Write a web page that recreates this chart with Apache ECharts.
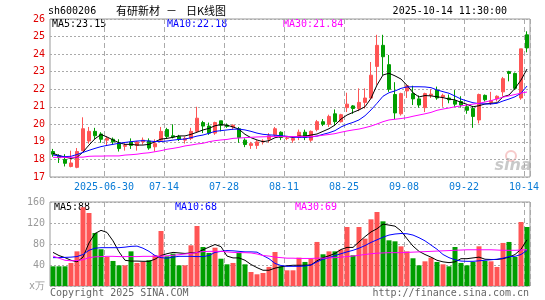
<!DOCTYPE html>
<html>
<head>
<meta charset="utf-8">
<title>sh600206 日K线图</title>
<script src="https://cdn.jsdelivr.net/npm/echarts@6.0.0/dist/echarts.min.js"></script>
<style>
html, body { margin: 0; padding: 0; background: #fff; }
#main { width: 545px; height: 300px; }
</style>
</head>
<body>
<div id="main"></div>
<script>
// 交易日
var dates = [
  '2025-06-17','2025-06-18','2025-06-19','2025-06-20','2025-06-23','2025-06-24','2025-06-25','2025-06-26','2025-06-27','2025-06-30',
  '2025-07-01','2025-07-02','2025-07-03','2025-07-04','2025-07-07','2025-07-08','2025-07-09','2025-07-10','2025-07-11','2025-07-14',
  '2025-07-15','2025-07-16','2025-07-17','2025-07-18','2025-07-21','2025-07-22','2025-07-23','2025-07-24','2025-07-25','2025-07-28',
  '2025-07-29','2025-07-30','2025-07-31','2025-08-01','2025-08-04','2025-08-05','2025-08-06','2025-08-07','2025-08-08','2025-08-11',
  '2025-08-12','2025-08-13','2025-08-14','2025-08-15','2025-08-18','2025-08-19','2025-08-20','2025-08-21','2025-08-22','2025-08-25',
  '2025-08-26','2025-08-27','2025-08-28','2025-08-29','2025-09-01','2025-09-02','2025-09-03','2025-09-04','2025-09-05','2025-09-08',
  '2025-09-09','2025-09-10','2025-09-11','2025-09-12','2025-09-15','2025-09-16','2025-09-17','2025-09-18','2025-09-19','2025-09-22',
  '2025-09-23','2025-09-24','2025-09-25','2025-09-26','2025-09-29','2025-09-30','2025-10-09','2025-10-10','2025-10-13','2025-10-14'
];
var openP = [
  18.45,18.2,18.0,17.6,17.55,18.5,19.05,19.6,19.45,19.1,
  19.15,18.95,18.75,19.0,18.8,19.0,19.05,18.72,19.1,19.7,
  19.35,19.3,19.1,19.2,19.6,20.1,19.9,19.5,20.2,19.95,
  19.85,19.75,19.1,18.8,18.8,19.0,19.15,19.4,19.55,19.2,
  19.1,19.25,19.55,19.1,19.7,20.15,20.0,20.6,20.15,20.95,
  21.05,20.9,21.25,21.5,23.3,24.5,23.4,21.7,20.6,21.9,
  21.75,21.45,20.95,21.65,21.95,21.55,21.5,21.35,21.3,21.0,
  20.9,20.25,21.65,21.25,21.45,21.85,23.0,22.9,21.5,25.1
];
var closeP = [
  18.3,18.1,17.78,17.8,18.45,19.75,19.6,19.35,19.15,19.2,
  19.0,18.62,18.8,18.8,19.0,19.1,18.65,18.9,19.6,19.3,
  19.28,19.15,19.2,19.6,20.35,19.9,19.5,20.1,19.95,19.88,
  19.95,19.25,18.85,18.9,19.0,19.05,19.35,19.75,19.25,19.22,
  19.2,19.55,19.25,19.6,20.15,20.0,20.45,20.15,20.55,21.15,
  20.9,21.25,21.5,22.8,24.5,23.85,22.0,20.65,21.75,22.2,
  21.45,21.1,21.75,21.72,21.5,21.65,21.4,21.15,21.1,20.8,
  20.45,21.7,21.4,21.35,21.6,22.6,22.9,22.05,24.3,24.35
];
var lowP = [
  18.15,17.8,17.6,17.55,17.5,18.45,18.9,19.15,18.95,18.8,
  18.85,18.45,18.5,18.6,18.5,18.85,18.55,18.45,19.0,19.2,
  19.2,19.05,18.9,19.1,19.55,19.5,19.4,19.4,19.6,19.8,
  19.7,18.95,18.7,18.6,18.6,18.85,18.95,19.3,19.1,19.1,
  18.95,19.1,19.1,19.0,19.6,19.9,19.85,19.95,20.1,20.7,
  20.6,20.75,20.9,21.45,22.25,22.8,21.85,20.3,20.5,21.5,
  21.1,20.95,20.7,21.5,21.4,21.0,21.2,21.0,20.95,20.6,
  19.8,20.05,21.3,21.1,21.3,21.6,22.45,21.95,21.4,24.1
];
var highP = [
  18.6,18.3,18.3,18.5,18.65,20.4,19.85,19.8,19.55,19.3,
  19.25,19.15,18.92,19.2,19.05,19.25,19.2,19.15,19.85,19.8,
  20.0,19.4,19.3,19.8,21.0,20.2,20.1,20.15,20.2,20.05,
  20.0,19.85,19.2,19.0,19.1,19.15,19.5,19.85,19.6,19.3,
  19.3,19.7,19.7,19.65,20.25,20.3,20.55,20.85,20.6,21.8,
  21.1,22.05,22.05,23.55,25.1,25.1,23.95,22.4,21.8,22.25,
  22.2,21.65,21.8,22.0,22.15,21.75,21.7,21.95,21.6,21.15,
  21.05,21.75,21.7,21.85,21.65,22.7,23.05,22.95,24.3,25.3
];
// 均线
var ma5 = [
  18.35,18.22,18.13,18.06,18.12,18.42,18.82,19.18,19.42,19.28,
  19.11,18.95,18.86,18.86,18.82,18.82,18.86,19.01,19.16,19.2,
  19.26,19.34,19.34,19.43,19.55,19.68,19.77,19.92,19.98,19.95,
  19.85,19.72,19.43,19.24,19.11,19.01,19.07,19.24,19.3,19.3,
  19.26,19.33,19.33,19.39,19.45,19.6,19.75,19.96,20.3,20.53,
  20.68,20.82,21.0,21.48,22.24,22.81,22.91,22.76,22.58,22.22,
  21.8,21.56,21.64,21.62,21.57,21.52,21.44,21.39,21.25,21.14,
  21.0,21.06,21.16,21.2,21.23,21.57,21.67,22.05,22.52,23.15
];
var ma10 = [
  18.25,18.2,18.16,18.18,18.28,18.4,18.52,18.63,18.73,18.8,
  18.86,18.92,18.97,19.01,19.05,19.07,19.05,19.02,19.02,19.05,
  19.1,19.14,19.16,19.24,19.33,19.39,19.49,19.6,19.64,19.68,
  19.72,19.73,19.68,19.6,19.5,19.43,19.4,19.38,19.35,19.32,
  19.27,19.26,19.26,19.28,19.33,19.43,19.52,19.64,19.85,20.0,
  20.11,20.25,20.49,20.82,21.2,21.6,21.8,21.9,22.05,22.13,
  22.14,22.14,22.13,22.09,21.96,21.86,21.77,21.61,21.44,21.33,
  21.23,21.18,21.16,21.16,21.2,21.33,21.44,21.57,21.77,22.18
];
var ma30 = [
  18.12,18.12,18.12,18.12,18.13,18.13,18.18,18.19,18.19,18.2,
  18.2,18.2,18.25,18.27,18.3,18.35,18.38,18.44,18.5,18.58,
  18.63,18.69,18.77,18.82,18.88,18.92,19.01,19.07,19.11,19.14,
  19.2,19.22,19.24,19.26,19.28,19.29,19.3,19.3,19.3,19.3,
  19.3,19.3,19.3,19.3,19.33,19.38,19.42,19.47,19.55,19.62,
  19.68,19.73,19.81,19.9,20.02,20.15,20.25,20.29,20.33,20.38,
  20.46,20.53,20.6,20.68,20.8,20.87,20.93,21.0,21.05,21.1,
  21.15,21.2,21.27,21.35,21.45,21.55,21.62,21.7,21.78,21.84
];
// 成交量（万手）
var vol = [
  37.5,37.5,37.5,43.9,66,150,139,101,70,55.3,
  47.7,39.4,39.4,66,43.9,45.8,49,58.5,104.8,56.6,
  61.6,39.4,39.4,77.5,114.3,74.3,63,73,52,41.3,
  43.9,63,41.3,26.7,22.3,24.8,36.3,64.8,37.5,29.9,
  29.9,54,45.8,52,83.9,60.4,66,66,69.3,112.4,
  58.5,112.4,90.2,127,141,123.2,87,85.1,75.6,66,
  52.8,39.4,47,54,45.8,41.3,37.5,74.3,43.9,39.4,
  45.8,75.6,47.7,47,36.3,82,83.9,55.3,121.9,112.4
];
var vma5 = [
  64,58,54,49,46,55,82,100,106,102,
  86,65,49,47.5,47.5,47,47,51,58,61.5,
  64,63,62,63,63.5,69,74,79,75,57,
  53.5,53.5,49,41,35,30,30,34,36.5,38.5,
  39.5,39.5,39.5,40,48,54,57.5,62,69.5,73.5,
  73.5,84,94,103,109,118,116,114,105,90,
  76,66,60,55,49,46,44.5,46,52,52,
  53.5,55,51,50.5,50.5,52,55,60,70,88
];
var vma10 = [
  54,54,54.5,55,56,60,68,72,73,73,
  73,73,74,75.5,76,72,66,58,54,53,
  55,56.5,56.5,56.5,56,56,58,64,66,67.5,
  67,66,65,65,64.5,58,52,43,39,37.5,
  37.5,37.5,38,40,46,51,54,58,61.5,65,
  68,72,77,83,88,93,97,99,100,99.5,
  97,92,86,78,70,60,54,50,47.5,47,
  47,48,49,50,51,53,56,56.5,60,68
];
var vma30 = [
  57,53,49,48,48.5,50,54,55.5,56,56.5,
  56.5,56,56,56,56,56.5,56.5,56.5,57,57.5,
  58.5,59.5,61,62,64,65.5,66,66,66,65,
  64,63.5,63.5,63,61,58,57,55,54,53,
  53,52.5,52.5,52.5,53,53,53.5,54,55,56,
  57,58.5,60,61.5,62.5,63,63.5,63.5,63.5,64,
  64.5,65,65.5,66,66.5,67,67.5,68,68.5,69,
  69,69,69,69,68.5,68,68,68,68.5,69
];
// 横轴刻度
var tickIdx = [9, 19, 29, 39, 49, 59, 69, 79];
var tickLabels = ['2025-06-30', '07-14', '07-28', '08-11', '08-25', '09-08', '09-22', '10-14'];

var RED = '#ff5555', GREEN = '#009e00';
var mono = '"DejaVu Sans Mono", "Liberation Mono", monospace';

var kdata = openP.map(function(o, i) { return [o, closeP[i], lowP[i], highP[i]]; });
var vdata = vol.map(function(v, i) {
  return { value: v, itemStyle: { color: closeP[i] >= openP[i] ? RED : GREEN } };
});
function isTick(i) { return tickIdx.indexOf(i) >= 0; }

var myChart = echarts.init(document.getElementById('main'));

function catAxis(grid, withLabel) {
  return {
    type: 'category', gridIndex: grid, data: dates, boundaryGap: true,
    axisLine: { show: false }, axisTick: { show: false },
    axisLabel: {
      show: withLabel,
      interval: function(i) { return isTick(i); },
      formatter: function(v, i) { return tickLabels[tickIdx.indexOf(i)] || ''; },
      color: '#0a7bd6', fontFamily: mono, fontSize: 10, margin: 5, padding: [0, 6, 0, 0]
    },
    splitLine: {
      show: true,
      interval: function(i) { return isTick(i); },
      lineStyle: { color: '#aaa', type: [5, 3], width: 1 }
    }
  };
}
function lineS(name, data, color, ax) {
  return {
    name: name, type: 'line', data: data, xAxisIndex: ax, yAxisIndex: ax,
    symbol: 'none', silent: true,
    lineStyle: { color: color, width: 1 }, itemStyle: { color: color }
  };
}
function txt(x, y, s, color, align, font) {
  return {
    type: 'text', x: x, y: y, silent: true,
    style: { text: s, fill: color, font: font || ('10px ' + mono), textAlign: align || 'left', textVerticalAlign: 'middle' }
  };
}

myChart.setOption({
  animation: false,
  textStyle: { fontFamily: mono },
  grid: [
    { left: 50, top: 19, width: 480, height: 158, show: true, borderColor: '#999', borderWidth: 1 },
    { left: 50, top: 202, width: 480, height: 84, show: true, borderColor: '#999', borderWidth: 1 }
  ],
  xAxis: [catAxis(0, true), catAxis(1, false)],
  yAxis: [
    {
      type: 'value', gridIndex: 0, min: 17, max: 26, interval: 1,
      axisLine: { show: false }, axisTick: { show: false },
      axisLabel: { color: '#e00000', fontFamily: mono, fontSize: 10, margin: 5 },
      splitLine: { lineStyle: { color: '#aaa', type: [2, 2] } }
    },
    {
      type: 'value', gridIndex: 1, min: 0, max: 160, interval: 40,
      axisLine: { show: false }, axisTick: { show: false },
      axisLabel: {
        color: '#999', fontFamily: mono, fontSize: 10, margin: 5,
        formatter: function(v) { return v === 0 ? 'x万' : v; }
      },
      splitLine: { lineStyle: { color: '#aaa', type: [2, 2] } }
    }
  ],
  series: [
    {
      type: 'candlestick', data: kdata, xAxisIndex: 0, yAxisIndex: 0, barWidth: 4, silent: true,
      itemStyle: { color: RED, color0: GREEN, borderColor: RED, borderColor0: GREEN, borderColorDoji: RED, borderWidth: 1 }
    },
    lineS('MA5', ma5, '#000000', 0),
    lineS('MA10', ma10, '#0000ff', 0),
    lineS('MA30', ma30, '#ff00ff', 0),
    { type: 'bar', data: vdata, xAxisIndex: 1, yAxisIndex: 1, barWidth: 5, silent: true },
    lineS('VMA5', vma5, '#000000', 1),
    lineS('VMA10', vma10, '#0000ff', 1),
    lineS('VMA30', vma30, '#ff00ff', 1)
  ],
  graphic: [
    txt(48, 11, 'sh600206', '#000'),
    txt(116, 11, '有研新材', '#000', 'left', '11px "Noto Sans CJK SC"'),
    txt(166, 11, '－', '#000', 'left', '11px "Noto Sans CJK SC"'),
    txt(186, 11, '日K线图', '#000', 'left', '11px "Noto Sans CJK SC"'),
    txt(507, 11, '2025-10-14 11:30:00', '#000', 'right'),
    txt(52, 24, 'MA5:23.15', '#000'),
    txt(167, 24, 'MA10:22.18', '#0000ff'),
    txt(283, 24, 'MA30:21.84', '#ff00ff'),
    txt(54, 207, 'MA5:88', '#000'),
    txt(175, 207, 'MA10:68', '#0000ff'),
    txt(295, 207, 'MA30:69', '#ff00ff'),
    txt(50, 293, 'Copyright 2025 SINA.COM', '#666'),
    txt(529, 293, 'http://finance.sina.com.cn', '#666', 'right'),
    { type: 'circle', shape: { cx: 511, cy: 156, r: 5 }, silent: true, style: { fill: 'none', stroke: 'rgba(240,150,150,0.5)', lineWidth: 2 } },
    txt(513, 166, 'sina', 'rgba(165,165,165,0.6)', 'center', 'italic bold 16px "DejaVu Sans"')
  ]
});

window.onresize = function() { myChart.resize(); };
</script>
</body>
</html>
